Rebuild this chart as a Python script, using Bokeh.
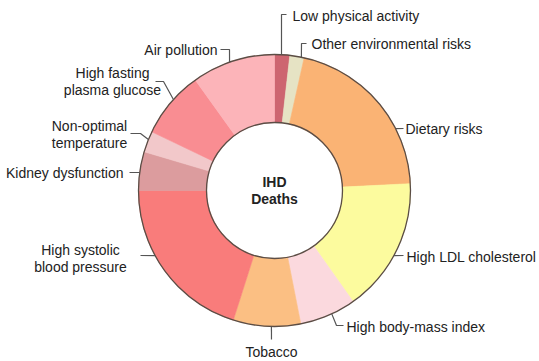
import math
from bokeh.plotting import figure
from bokeh.models import Range1d, ColumnDataSource
from bokeh.core.properties import value
from bokeh.embed import file_html
from bokeh.resources import INLINE

# ---- data (share of IHD deaths, %) ----
risks = ["Low physical activity", "Other environmental risks", "Dietary risks",
         "High LDL cholesterol", "High body-mass index", "Tobacco",
         "High systolic\nblood pressure", "Kidney dysfunction",
         "Non-optimal\ntemperature", "High fasting\nplasma glucose", "Air pollution"]
shares = [1.8, 1.7, 20.7, 16.0, 6.7, 8.0, 20.1, 4.6, 2.5, 8.0, 9.9]
colors = ["#cd6570", "#e6e3c4", "#fab374", "#fcfb9e", "#fbd9de", "#fbbf83",
          "#f97c7b", "#dc9c9e", "#f2c8ca", "#f98d92", "#fcb4b9"]
center_title = "IHD\nDeaths"

# ---- layout (pixels, y downwards) ----
W, H = 539, 361
CX, CY = 274, 190
R_OUT, R_IN = 136, 68
# per label: leader attach angle (deg clockwise from top), leader elbow points, text pos, align
label_layout = [
    (2.95,  [(281, 14), (286, 14)],  (292, 15),  "left"),
    (11.4,  [(301, 43), (306, 43)],  (311, 43),  "left"),
    (62.9,  [(403, 128)],            (405, 128), "left"),
    (118.6, [(403, 255)],            (406, 256), "left"),
    (155.1, [(336, 325), (343, 325)], (346, 326), "left"),
    (181.3, [(271, 339)],            (271, 351), "center"),
    (241.4, [(140, 255)],            (80, 258),  "center"),
    (277.6, [(129, 172)],            (123, 172), "right"),
    (292.0, [(140, 133), (130, 133)], (89, 134),  "center"),
    (312.0, [(163, 81), (155, 81)],  (112, 81),  "center"),
    (340.7, [(229, 49), (220, 49)],  (217, 49),  "right"),
]

p = figure(width=W, height=H, x_range=Range1d(0, W), y_range=Range1d(0, H),
           output_backend="svg", toolbar_location=None, min_border=0)
p.axis.visible = False
p.grid.visible = False
p.outline_line_color = None
p.background_fill_color = "white"
p.border_fill_color = "white"

cx, cy = CX, H - CY

# wedges from cumulative shares
total = sum(shares)
starts, ends = [], []
acc = 0.0
for s in shares:
    starts.append(math.radians(90 - acc / total * 360))
    acc += s
    ends.append(math.radians(90 - acc / total * 360))

src = ColumnDataSource(dict(x=[cx] * len(shares), y=[cy] * len(shares),
                            start=starts, end=ends, color=colors, name=risks))
p.annular_wedge(x="x", y="y", inner_radius=R_IN, outer_radius=R_OUT,
                start_angle="start", end_angle="end", direction="clock",
                fill_color="color", line_color="color", line_width=0.6, source=src)

# ring outlines
p.circle(x=[cx, cx], y=[cy, cy], radius=[R_OUT, R_IN], fill_color=None,
         line_color="#5b4d45", line_width=1.3)

# leader lines and labels
xs, ys = [], []
tx, ty, ta, tt = [], [], [], []
for name, (ang, pts, tpos, align) in zip(risks, label_layout):
    a = math.radians(ang)
    ax = CX + R_OUT * math.sin(a)
    ay = CY - R_OUT * math.cos(a)
    px = [ax] + [q[0] for q in pts]
    py = [H - ay] + [H - q[1] for q in pts]
    xs.append(px)
    ys.append(py)
    tx.append(tpos[0])
    ty.append(H - tpos[1])
    ta.append(align)
    tt.append(name)

p.multi_line(xs=xs, ys=ys, line_color="#555555", line_width=1.2)

lsrc = ColumnDataSource(dict(x=tx, y=ty, text=tt, align=ta))
p.text(x="x", y="y", text="text", text_align="align", text_baseline="middle",
       text_font=value("Liberation Sans"), text_font_size="14px",
       text_color="#222222", text_line_height=1.05, source=lsrc)

p.text(x=[cx], y=[cy], text=[center_title], text_align="center",
       text_baseline="middle", text_font=value("Liberation Sans"),
       text_font_size="14px", text_font_style="bold", text_color="#222222",
       text_line_height=1.05)

open("out.html", "w").write(file_html(p, INLINE))
